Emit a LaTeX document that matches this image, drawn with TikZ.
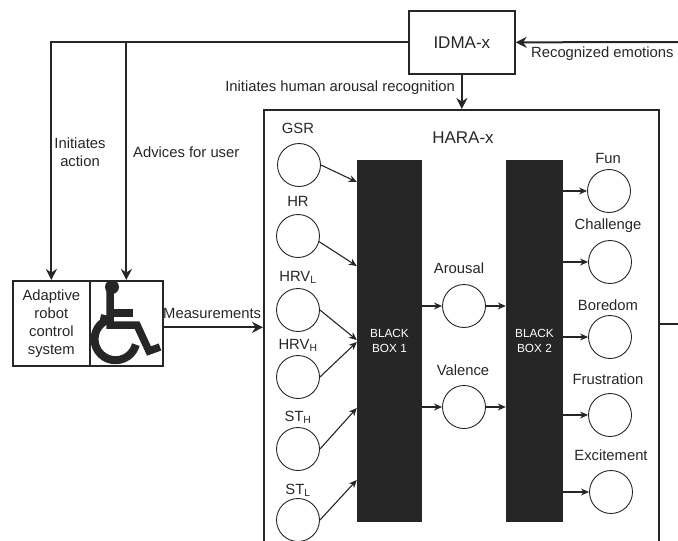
\documentclass[tikz,border=0pt]{standalone}
\usepackage{fontspec}
\setmainfont{Liberation Sans}
\usetikzlibrary{arrows.meta,positioning,calc}
\definecolor{ink}{HTML}{262626}

\begin{document}
\begin{tikzpicture}[x=1pt,y=-1pt,
   every node/.style={font=\fontsize{14.8}{18}\selectfont,text=ink,inner sep=0pt},
   b/.style={draw=ink,line width=1.7pt,minimum height=#1,anchor=north west},
   v/.style={draw=ink,circle,line width=0.9pt,minimum size=43pt},
   bb/.style={fill=ink,text=white,align=center,minimum height=362pt,font=\fontsize{11.8}{14.6}\selectfont},
   t/.style={font=\fontsize{17}{20}\selectfont},
   a/.style={-{Stealth[length=11pt,width=11pt]},line width=2pt,ink},
   c/.style={-{Stealth[length=8pt,width=7pt]},line width=1.1pt,ink}]
  \useasboundingbox (0,0) rectangle (678,541);
  \clip (0,0) rectangle (678,541);
  % top level blocks
  \node[b=63pt,minimum width=106pt] (idma) at (408,10) {};
  \node[t] at (idma.center) (idmat) {IDMA-x};
  \node[b=460pt,minimum width=395pt] (hara) at (263,109) {};
  \node[b=85pt,minimum width=77pt] (control) at (12,280) {};
  \node[align=center] (controlt) at (control.center) {Adaptive\\ robot\\ control\\ system};
  \node[b=85pt,minimum width=73pt] (chair) at (89,280) {};
  % wheelchair sign
  \fill[ink] (112,287) circle[radius=7pt];
  \draw[ink,line width=7.5pt,line join=miter] (110,287) -- (110,325) -- (137,325) -- (149,351) -- (160,347);
  \draw[ink,line width=7.5pt] (110,313) -- (133,313);
  \draw[ink,line width=8pt] (105,315) -- (103.5,322) arc[start angle=125,end angle=345,radius=21pt];
  % black boxes
  \node[bb,minimum width=65pt] (box1) at (389.5,341) {BLACK\\ BOX 1};
  \node[bb,minimum width=57pt] (box2) at (534.5,341) {BLACK\\ BOX 2};
  % inputs
  \node[v] (gsr) at (299,165) {};
  \node[v] (hr) at (298,236) {};
  \node[v] (hrvl) at (298,310) {};
  \node[v] (hrvh) at (298,377) {};
  \node[v] (sth) at (298,449) {};
  \node[v] (stl) at (298,520) {};
  \node at (298,128) (gsrl) {GSR};
  \node at (298,201) (hrl) {HR};
  \node at (298,277) (hrvll) {HRV\textsubscript{L}};
  \node at (298,345) (hrvhl) {HRV\textsubscript{H}};
  \node at (298,417) (sthl) {ST\textsubscript{H}};
  \node at (298,490) (stll) {ST\textsubscript{L}};
  % arousal and valence
  \node[v] (arousal) at (464,306) {};
  \node[v] (valence) at (464,407) {};
  \node at (459,268) (arousall) {Arousal};
  \node at (463,370) (valencel) {Valence};
  % outputs
  \node[v] (fun) at (609,191) {};
  \node[v] (challenge) at (610,262) {};
  \node[v] (boredom) at (610,337) {};
  \node[v] (frustration) at (610,415) {};
  \node[v] (excitement) at (611,492) {};
  \node at (608,158) (funl) {Fun};
  \node at (608,226) (challengel) {Challenge};
  \node at (608,305) (boredoml) {Boredom};
  \node at (608,379) (frustrationl) {Frustration};
  \node at (611,455) (excitementl) {Excitement};
  \node[t] at (463,138) (haral) {HARA-x};
  % connectors
  \coordinate (tap) at (chair.north |- idma.west);
  \coordinate (emin) at (678,42);
  \coordinate (emout) at (678,324);
  \draw[a] (idma.west) -| (control.north);
  \draw[a] (tap) -- (chair.north);
  \draw[a] (emin) -- (idma.east);
  \draw[a] (idma.south) -- (idma.south |- hara.north);
  \draw[a] ([yshift=-4pt]chair.east) -- ([yshift=-4pt]chair.east -| hara.west);
  \draw[line width=2pt,ink] (hara.east |- emout) -- (emout);
  \draw[c] (gsr.east) -- ([yshift=159pt]box1.west);
  \draw[c] (hr.-15) -- ([yshift=75pt]box1.west);
  \draw[c] (hrvl.east) -- ([yshift=1pt]box1.west);
  \draw[c] (hrvh.east) -- ([yshift=-1pt]box1.west);
  \draw[c] (sth.east) -- ([yshift=-67pt]box1.west);
  \draw[c] (stl.east) -- ([yshift=-139pt]box1.west);
  \draw[c] (box1.east |- arousal) -- (arousal);
  \draw[c] (arousal) -- (box2.west |- arousal);
  \draw[c] (box1.east |- valence) -- (valence);
  \draw[c] (valence) -- (box2.west |- valence);
  \draw[c] (box2.east |- fun) -- (fun);
  \draw[c] (box2.east |- challenge) -- (challenge);
  \draw[c] (box2.east |- boredom) -- (boredom);
  \draw[c] (box2.east |- frustration) -- (frustration);
  \draw[c] (box2.east |- excitement) -- (excitement);
  % connector labels
  \node[align=center] (initl) at (80,152) {Initiates\\ action};
  \node[anchor=west] (advl) at (133,152) {Advices for user};
  \node[anchor=east] (humanl) at (455,88) {Initiates human arousal recognition};
  \node[anchor=west] (recl) at (531,54) {Recognized emotions};
  \node[anchor=west] (meas) at (163,313) {Measurements};
\end{tikzpicture}
\end{document}
